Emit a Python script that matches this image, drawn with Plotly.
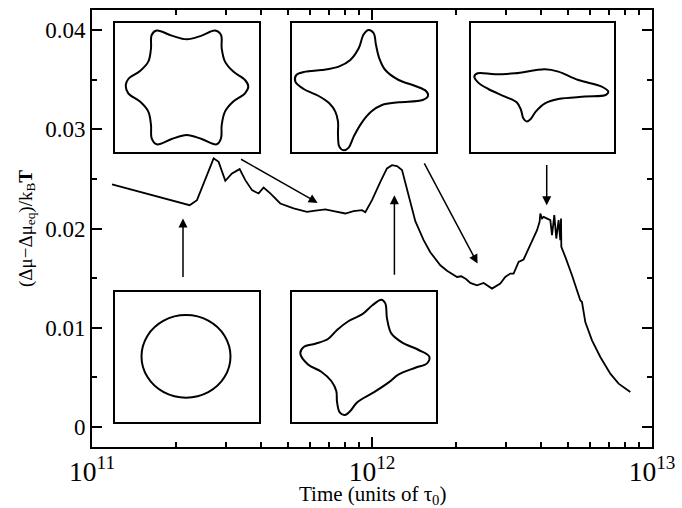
import plotly.graph_objects as go

# ---- main curve: chemical-potential excess vs. time ----
time = [1.179e11, 2.232e11, 2.371e11, 2.540e11, 2.719e11, 2.833e11, 2.993e11, 3.162e11,
        3.367e11, 3.528e11, 3.728e11, 3.936e11, 4.101e11, 4.333e11, 4.704e11, 5.248e11,
        5.860e11, 6.185e11, 6.812e11, 7.294e11, 8.027e11, 8.596e11, 9.211e11, 9.465e11,
        1.000e12, 1.071e12, 1.131e12, 1.179e12, 1.228e12, 1.280e12, 1.334e12, 1.428e12,
        1.529e12, 1.615e12, 1.754e12, 1.853e12, 2.012e12, 2.084e12, 2.172e12, 2.244e12,
        2.371e12, 2.504e12, 2.683e12, 2.872e12, 2.992e12, 3.118e12, 3.204e12, 3.277e12,
        3.339e12, 3.478e12, 3.677e12, 3.885e12, 3.968e12, 3.992e12, 4.048e12, 4.102e12,
        4.334e12, 4.395e12, 4.478e12, 4.552e12, 4.639e12, 4.704e12, 4.732e12, 4.744e12,
        4.902e12, 5.179e12, 5.545e12, 5.623e12, 5.778e12, 6.105e12, 6.537e12, 7.098e12,
        7.598e12, 8.366e12]
dmu = [0.02444, 0.02235, 0.02285, 0.02487, 0.02706, 0.02671, 0.02480, 0.02554,
       0.02598, 0.02487, 0.02386, 0.02353, 0.02413, 0.02353, 0.02252, 0.02202,
       0.02167, 0.02177, 0.02192, 0.02174, 0.02151, 0.02174, 0.02184, 0.02164,
       0.02285, 0.02470, 0.02605, 0.02638, 0.02628, 0.02588, 0.02386, 0.02074,
       0.01882, 0.01761, 0.01630, 0.01575, 0.01512, 0.01519, 0.01489, 0.01452,
       0.01428, 0.01452, 0.01395, 0.01446, 0.01512, 0.01546, 0.01546, 0.01613,
       0.01663, 0.01688, 0.01832, 0.01983, 0.02067, 0.02151, 0.02101, 0.02117,
       0.02084, 0.01932, 0.02134, 0.01899, 0.02084, 0.01882, 0.02101, 0.01815,
       0.01714, 0.01529, 0.01277, 0.01260, 0.01058, 0.00874, 0.00706, 0.00538,
       0.00438, 0.00353]

y_tickvals = [0, 0.01, 0.02, 0.03, 0.04]
y_ticktext = ["0", "0.01", "0.02", "0.03", "0.04"]

x_title = "Time (units of τ<sub>0</sub>)"
y_title = "(Δμ−Δμ<sub>eq</sub>)/k<sub>B</sub><b>T</b>"

# ---- crystal outlines shown in the insets (frame units, y downward) ----
hex_x = [71.7, 86.7, 100, 106, 106.7, 110, 118.3, 130, 133.3, 130, 118.3, 110, 106.7, 106,
         101.7, 86.7, 71.7, 56.7, 41.7, 36.7, 36, 33.3, 25, 13.3, 10.7, 13.3, 25, 33.3, 36,
         36.7, 41.7, 56.7]
hex_y = [16, 12.3, 7.3, 11.7, 25, 38.3, 48.3, 56.7, 63.3, 70, 78.3, 88.3, 101.7, 115,
         121, 115.7, 111.7, 115.7, 121, 115, 101.7, 88.3, 78.3, 70, 62.3, 55.7, 47.7, 38.3,
         25, 11.7, 7.3, 12.3]

star_x = [76.7, 81.7, 84, 87.3, 93.3, 106.7, 123.3, 134, 136, 130.7, 106.7, 90, 79.3, 69.3,
          61.7, 56.7, 51.7, 47.3, 46, 46, 43.3, 37.3, 26.7, 11.7, 3.3, 4.3, 13.3, 30, 46.7,
          58.3, 66.7, 71.7]
star_y = [6.7, 10, 21.7, 35, 46.7, 56.7, 62.7, 67.7, 72.7, 76.7, 79, 81.7, 88.3, 100,
          113.3, 124.3, 127, 123.3, 111.7, 98.3, 88.3, 80, 72.7, 65.7, 58.3, 51.7, 48.3,
          46.7, 43.3, 36.7, 25, 11]

flat_x = [3.3, 6.7, 24, 44, 74, 87.3, 107.3, 130.7, 137.3, 134.7, 114, 87.3, 74, 64.7,
          59.7, 55.7, 52.3, 50, 45.7, 34, 17.3, 7.3]
flat_y = [53.3, 50, 51, 50, 46, 48.3, 56.7, 63.3, 68.3, 71.7, 73.3, 75.7, 80, 88.3,
          95.7, 98.3, 95, 86.7, 79, 73.3, 65.7, 59.3]

disc_x = [115.5, 109.5, 93.3, 71, 48.7, 32.5, 26.5, 32.5, 48.7, 71, 93.3, 109.5]
disc_y = [64.7, 44, 28.9, 23.4, 28.9, 44, 64.7, 85.4, 100.5, 106, 100.5, 85.4]

lobe_x = [89.3, 93.3, 95, 99.3, 110, 126.7, 137.3, 135, 123.3, 106.7, 96.7, 81.7, 65,
          58.3, 52.7, 47.7, 45, 44.3, 39.3, 29.3, 16, 8.3, 11.7, 23.3, 36, 45, 56.7, 70, 80.7]
lobe_y = [8, 11.7, 26.7, 41.7, 50.7, 58.3, 65, 71.7, 76, 82.7, 90.7, 100.7, 110.7,
          119.3, 123.3, 120.7, 110, 99.3, 89.3, 80, 72.7, 61.7, 55.3, 52, 47.3, 38.3, 29.3,
          22.7, 13.3]

FONT = "Liberation Serif, Times New Roman, serif"

fig = go.Figure()
fig.add_trace(go.Scatter(x=time, y=dmu, mode="lines",
                         line=dict(color="black", width=1.8), showlegend=False,
                         xaxis="x", yaxis="y"))

# plot-area pixel geometry for placing the inset frames
L, R, T, B = 92, 652, 10, 447
def px(a, b):
    return [(a - L) / (R - L), (b - L) / (R - L)]
def py(top, bot):
    return [(B - bot) / (B - T), (B - top) / (B - T)]

insets = [
    (hex_x, hex_y, px(115, 259), py(23.3, 151.7)),
    (star_x, star_y, px(292, 436), py(23.3, 151.7)),
    (flat_x, flat_y, px(471, 614), py(23.3, 151.7)),
    (disc_x, disc_y, px(115, 259), py(291.7, 421.5)),
    (lobe_x, lobe_y, px(292, 436), py(291.7, 421.5)),
]

layout_axes = {}
for i, (sx, sy, dx, dy) in enumerate(insets, start=2):
    fig.add_trace(go.Scatter(x=sx + [sx[0]], y=sy + [sy[0]], mode="lines",
                             line=dict(color="black", width=2, shape="spline", smoothing=1.0),
                             showlegend=False, xaxis=f"x{i}", yaxis=f"y{i}",
                             hoverinfo="skip"))
    wx = (dx[1] - dx[0]) * (R - L)
    wy = (dy[1] - dy[0]) * (B - T)
    frame = dict(showline=True, linecolor="black", linewidth=2, mirror=True,
                 showticklabels=False, ticks="", showgrid=False, zeroline=False,
                 fixedrange=True)
    layout_axes[f"xaxis{i}"] = dict(frame, domain=dx, range=[0, wx], anchor=f"y{i}")
    layout_axes[f"yaxis{i}"] = dict(frame, domain=dy, range=[wy, 0], anchor=f"x{i}")

fig.update_layout(
    width=682, height=508,
    margin=dict(l=L, r=682 - R, t=T, b=508 - B),
    paper_bgcolor="white", plot_bgcolor="white",
    font=dict(family=FONT, size=22, color="black"),
    xaxis=dict(type="log", range=[11, 13], dtick=1, exponentformat="power",
               showexponent="all", ticks="inside", ticklen=10, tickwidth=1.5,
               tickcolor="black", showline=True, linewidth=2, linecolor="black",
               mirror="allticks", showgrid=False, zeroline=False, automargin=False,
               minor=dict(ticks="inside", ticklen=5, tickwidth=1.5, tickcolor="black",
                          dtick="D1", showgrid=False),
               tickfont=dict(size=22), domain=[0, 1]),
    yaxis=dict(range=[-0.0020, 0.0420], tickvals=y_tickvals, ticktext=y_ticktext,
               ticks="inside", ticklen=10, tickwidth=1.5, tickcolor="black",
               showline=True, linewidth=2, linecolor="black", mirror="allticks",
               showgrid=False, zeroline=False, automargin=False,
               minor=dict(ticks="inside", ticklen=5, tickwidth=1.5, tickcolor="black",
                          dtick=0.005, tick0=0, showgrid=False),
               title=dict(text=y_title, standoff=8, font=dict(size=19)),
               tickfont=dict(size=23), domain=[0, 1]),
    **layout_axes,
)

# x-axis title set as a free annotation below the tick labels
fig.add_annotation(text=x_title, xref="paper", yref="paper", x=0.5,
                   y=(B - 495.5) / (B - T), xanchor="center", yanchor="middle",
                   showarrow=False, font=dict(size=21))

# arrows linking each morphology to its time on the curve (x in log10 units)
arrows = [
    ((11.325, 0.0210), (11.325, 0.01496)),
    ((11.806, 0.02258), (11.527, 0.02706)),
    ((12.080, 0.02336), (12.080, 0.01519)),
    ((12.377, 0.01647), (12.184, 0.02671)),
    ((12.624, 0.02235), (12.624, 0.02655)),
]
for (hx, hy), (tx, ty) in arrows:
    fig.add_annotation(x=hx, y=hy, ax=tx, ay=ty, xref="x", yref="y", axref="x", ayref="y",
                       text="", showarrow=True, arrowhead=2, arrowsize=1.2,
                       arrowwidth=1.5, arrowcolor="black", standoff=0, startstandoff=0)

fig.write_html("out.html")
